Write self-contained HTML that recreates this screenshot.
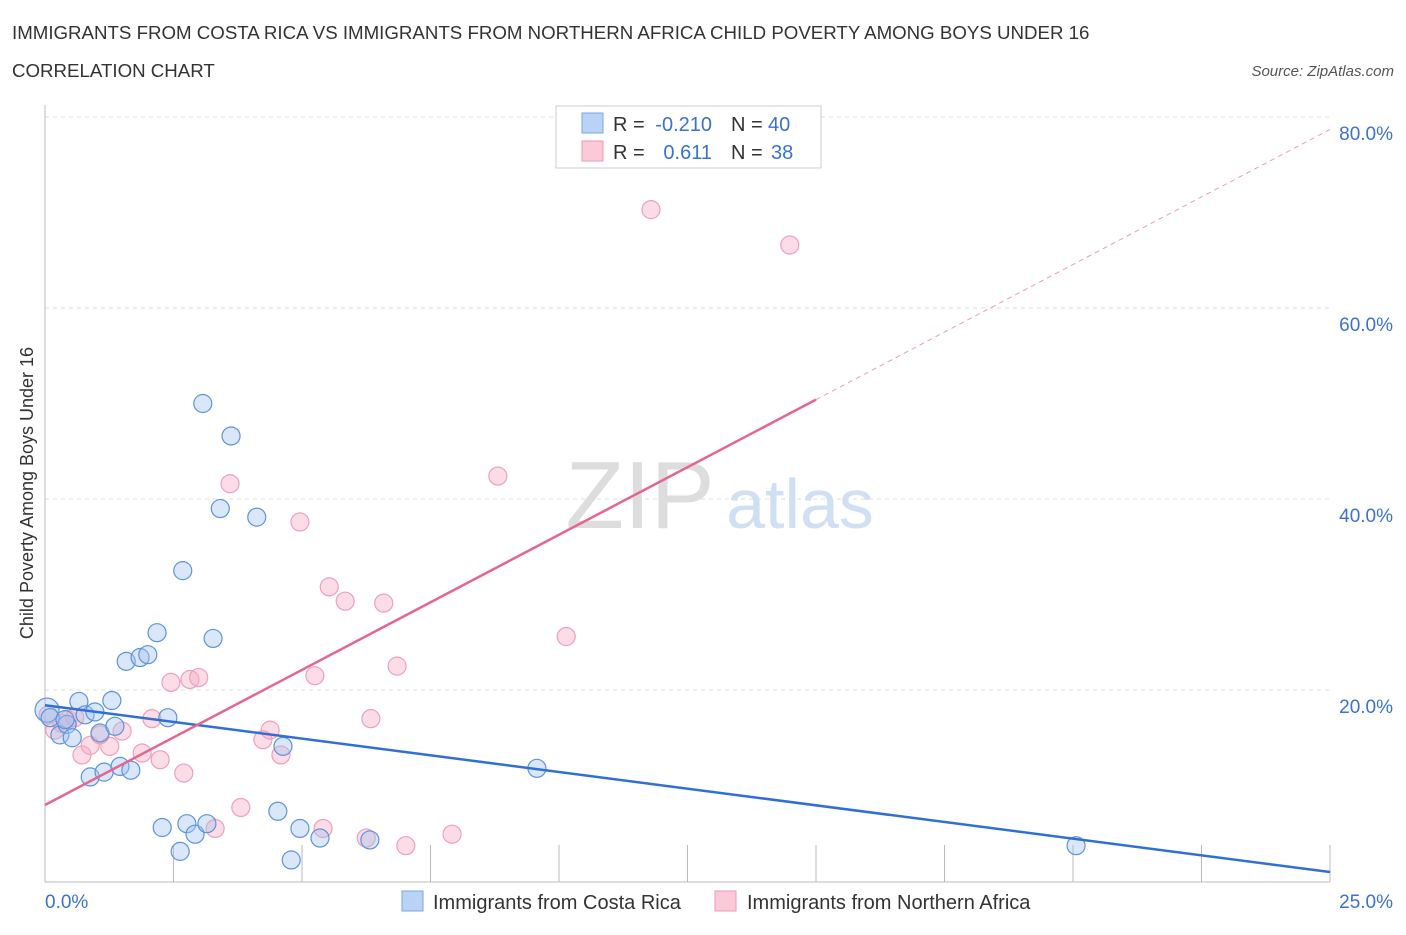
<!DOCTYPE html>
<html><head><meta charset="utf-8"><style>
body{margin:0;background:#fff;font-family:"Liberation Sans",sans-serif;}
svg text{font-family:"Liberation Sans",sans-serif;}
</style></head><body>
<svg width="1406" height="930" xmlns="http://www.w3.org/2000/svg">
<text x="12" y="39" font-size="18.7" fill="#333">IMMIGRANTS FROM COSTA RICA VS IMMIGRANTS FROM NORTHERN AFRICA CHILD POVERTY AMONG BOYS UNDER 16</text>
<text x="12" y="77" font-size="18.7" fill="#333">CORRELATION CHART</text>
<text x="1394" y="76" font-size="15" fill="#555" font-style="italic" text-anchor="end">Source: ZipAtlas.com</text>
<text x="640" y="528" font-size="96" fill="#ddd" font-family="Liberation Serif" text-anchor="middle">ZIP</text>
<text x="800" y="528" font-size="70" fill="#cfe0f5" text-anchor="middle">atlas</text>
<g id="grid"></g>
<g id="axes"></g>
<g id="pts"></g>
<g id="lines"></g>
<text x="33" y="493" font-size="18" fill="#333" text-anchor="middle" transform="rotate(-90 33 493)">Child Poverty Among Boys Under 16</text>
<g>
<rect x="556" y="106" width="265" height="62" fill="#fff" stroke="#ccc"/>
<rect x="582" y="113" width="21" height="20" fill="#b8d3f5" stroke="#7aa7e0"/>
<rect x="582" y="141" width="21" height="20" fill="#fcc9d8" stroke="#ee9ab4"/>
<text x="613" y="131" font-size="20" fill="#333">R =</text>
<text x="712" y="131" font-size="20" fill="#3a72d0" text-anchor="end">-0.210</text>
<text x="731" y="131" font-size="20" fill="#333">N =</text>
<text x="768" y="131" font-size="20" fill="#3a72d0">40</text>
<text x="613" y="159" font-size="20" fill="#333">R =</text>
<text x="712" y="159" font-size="20" fill="#3a72d0" text-anchor="end">0.611</text>
<text x="731" y="159" font-size="20" fill="#333">N =</text>
<text x="771" y="159" font-size="20" fill="#3a72d0">38</text>
</g>
<g>
<rect x="402" y="891" width="21" height="20" fill="#b8d3f5" stroke="#7aa7e0"/>
<text x="433" y="909" font-size="20" fill="#333">Immigrants from Costa Rica</text>
<rect x="715" y="891" width="21" height="20" fill="#fcc9d8" stroke="#ee9ab4"/>
<text x="747" y="909" font-size="20" fill="#333">Immigrants from Northern Africa</text>
</g>
</svg>
<script>
const blueX=[0.04,0.1,0.29,0.43,0.53,0.66,0.78,0.97,1.07,1.3,1.36,0.88,1.15,1.46,1.67,1.58,1.85,2.0,2.18,2.39,2.68,3.07,3.27,3.41,3.62,4.12,2.28,2.63,2.76,2.92,3.15,4.53,4.63,4.79,4.96,5.35,6.32,9.57,20.06,0.39];
const blueY=[17.9,17.1,15.3,16.4,15.0,18.8,17.4,17.7,15.5,18.9,16.2,10.9,11.4,12.0,11.6,23.0,23.4,23.7,26.0,17.1,32.5,50.0,25.4,39.0,46.6,38.1,5.6,3.1,6.0,4.9,6.0,7.3,14.1,2.2,5.5,4.5,4.3,11.8,3.7,16.9];
const pinkX=[0.06,0.19,0.33,0.45,0.58,0.72,0.88,1.07,1.26,1.5,1.89,2.08,2.24,2.45,2.7,2.82,2.99,3.31,3.6,3.81,4.24,4.38,4.59,4.96,5.25,5.41,5.53,5.84,6.25,6.34,6.59,6.85,7.02,7.92,8.81,10.14,11.79,14.49];
const pinkY=[17.4,15.8,16.5,16.9,17.1,13.2,14.2,15.3,14.1,15.7,13.4,17.0,12.7,20.8,11.3,21.1,21.3,5.5,41.6,7.7,14.8,15.8,13.2,37.6,21.5,5.5,30.8,29.3,4.5,17.0,29.1,22.5,3.7,4.9,42.4,25.6,70.3,66.6];
const yTicks=[20,40,60,80];
const blueTrend=[18.4,0.94];
const pinkTrend=[7.96,78.7];
const ns="http://www.w3.org/2000/svg";
const X=v=>45+v/25*1285, Y=v=>881-v/20*191;
function mk(t,a,p){const e=document.createElementNS(ns,t);for(const k in a)e.setAttribute(k,a[k]);document.getElementById(p).appendChild(e);return e;}
yTicks.forEach(t=>{
 const l=mk('line',{x1:45,x2:1330,y1:Y(t),y2:Y(t),stroke:'#ddd','stroke-dasharray':'4,4'},'grid');
 
 
 const tx=mk('text',{x:1393,y:Y(t)+23,'font-size':19,fill:'#3a72d0','text-anchor':'end'},'grid');tx.textContent=t.toFixed(1)+'%';
 
 
});
mk('line',{x1:45,x2:45,y1:105,y2:882,stroke:'#bbb'},'axes');
mk('line',{x1:45,x2:1330,y1:882,y2:882,stroke:'#bbb'},'axes');
for(let i=1;i<=10;i++){mk('line',{x1:45+i*128.5,x2:45+i*128.5,y1:845,y2:882,stroke:'#bbb'},'axes');}
let t0=mk('text',{x:45,y:908,'font-size':19,fill:'#3a72d0'},'axes');t0.textContent='0.0%';


let t1=mk('text',{x:1393,y:908,'font-size':19,fill:'#3a72d0','text-anchor':'end'},'axes');t1.textContent='25.0%';


pinkX.forEach((x,i)=>{const c=mk('circle',{cx:X(x),cy:Y(pinkY[i]),r:9,fill:'rgba(247,170,195,0.4)',stroke:'#eea0b8','stroke-width':1.2},'pts');
 
 });
blueX.forEach((x,i)=>{const c=mk('circle',{cx:X(x),cy:Y(blueY[i]),r:i==0?12:9,fill:'rgba(160,195,240,0.4)',stroke:'#5d93dc','stroke-width':1.2},'pts');
 
 });
const pAt=x=>pinkTrend[0]+(pinkTrend[1]-pinkTrend[0])*x/25;
let bl=mk('line',{x1:X(0),y1:Y(blueTrend[0]),x2:X(25),y2:Y(blueTrend[1]),stroke:'#2f6fd6','stroke-width':2.5},'lines');


let pl=mk('line',{x1:X(0),y1:Y(pAt(0)),x2:X(15),y2:Y(pAt(15)),stroke:'#e5668f','stroke-width':2.5},'lines');


let pd=mk('line',{x1:X(15),y1:Y(pAt(15)),x2:X(25),y2:Y(pAt(25)),stroke:'#e8a0b5','stroke-width':1,'stroke-dasharray':'5,4'},'lines');


</script>
</body></html>
